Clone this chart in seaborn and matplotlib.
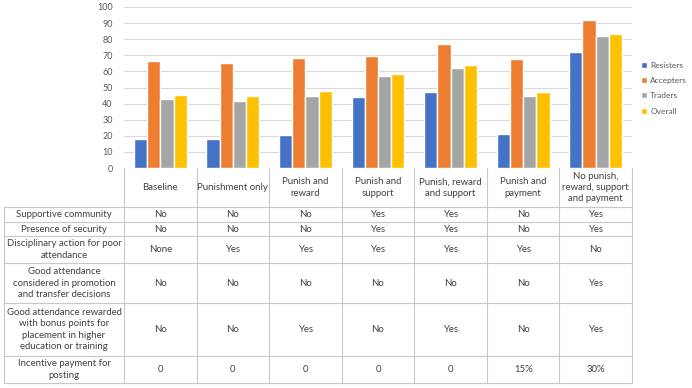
import pandas as pd
import matplotlib
matplotlib.use('Agg')
import matplotlib.pyplot as plt
import seaborn as sns

# 시나리오별 결석 대응 유형 비율
scenarios = ['Baseline', 'Punishment only', 'Punish and\nreward', 'Punish and\nsupport',
             'Punish, reward\nand support', 'Punish and\npayment',
             'No punish,\nreward, support\nand payment']
groups = ['Resisters', 'Accepters', 'Traders', 'Overall']
resisters = [18.0, 18.2, 20.7, 44.1, 47.0, 21.1, 72.3]
accepters = [66.3, 65.0, 68.5, 69.8, 76.8, 67.7, 91.9]
traders = [42.6, 41.8, 45.0, 56.9, 62.1, 44.7, 82.2]
overall = [45.3, 44.6, 47.8, 58.6, 63.8, 47.4, 83.4]
colors = ['#4472C4', '#ED7D31', '#A5A5A5', '#FFC000']

# 아래 표 내용
row_labels = ['Supportive community',
              'Presence of security',
              'Disciplinary action for poor\nattendance',
              'Good attendance\nconsidered in promotion\nand transfer decisions',
              'Good attendance rewarded\nwith bonus points for\nplacement in higher\neducation or training',
              'Incentive payment for\nposting']
supportive = ['No', 'No', 'No', 'Yes', 'Yes', 'No', 'Yes']
security = ['No', 'No', 'No', 'Yes', 'Yes', 'No', 'Yes']
disciplinary = ['None', 'Yes', 'Yes', 'Yes', 'Yes', 'Yes', 'No']
promotion = ['No', 'No', 'No', 'No', 'No', 'No', 'Yes']
bonus = ['No', 'No', 'Yes', 'No', 'Yes', 'No', 'Yes']
payment = ['0', '0', '0', '0', '0', '15%', '30%']
row_values = [supportive, security, disciplinary, promotion, bonus, payment]

df = pd.DataFrame({'scenario': scenarios * 4,
                   'group': sum([[g] * 7 for g in groups], []),
                   'value': resisters + accepters + traders + overall})

sns.set_style('white')
plt.rcParams['font.family'] = ['Lato', 'DejaVu Sans']

W, H = 692, 388
fig = plt.figure(figsize=(W / 100, H / 100), dpi=100)
ax = fig.add_axes([124 / W, 1 - 168 / H, (632 - 124) / W, (168 - 7) / H])

sns.barplot(data=df, x='scenario', y='value', hue='group', palette=colors,
            width=0.73, gap=0, saturation=1, ax=ax)
ax.set_xlim(-0.5, 6.5)
ax.set_ylim(0, 100)
ax.set_yticks(range(0, 101, 10))
ax.set_xticks([])
ax.set_xlabel('')
ax.set_ylabel('')
ax.tick_params(axis='y', length=0, pad=8, labelsize=6.5, labelcolor='#595959')
ax.yaxis.grid(True, color='#D9D9D9', lw=0.8)
ax.set_axisbelow(True)
for s in ax.spines.values():
    s.set_visible(False)

ax.legend(loc='center left', bbox_to_anchor=(639 / W, 1 - 88 / H),
          bbox_transform=fig.transFigure, frameon=False, fontsize=6,
          labelcolor='#595959', handlelength=0.75, handleheight=0.75,
          handletextpad=0.4, labelspacing=1.0, borderaxespad=0, borderpad=0.2)

# 표 그리기 (픽셀 좌표 오버레이)
tab = fig.add_axes([0, 0, 1, 1], zorder=-1)
tab.set_xlim(0, W)
tab.set_ylim(H, 0)
tab.axis('off')

col_x = [ax.transData.transform((i - 0.5, 0))[0] for i in range(8)]
row_y = [168, 207, 222, 236, 263, 303, 356, 383]
left = 4
line_c = '#C8C8C8'
text_c = '#404040'
fs = 6.9

for x in col_x:
    tab.plot([x, x], [row_y[0], row_y[-1]], color=line_c, lw=0.8)
tab.plot([left, left], [row_y[1], row_y[-1]], color=line_c, lw=0.8)
for y in row_y[1:]:
    tab.plot([left, col_x[-1]], [y, y], color=line_c, lw=0.8)

for i, name in enumerate(scenarios):
    tab.text((col_x[i] + col_x[i + 1]) / 2, (row_y[0] + row_y[1]) / 2, name,
             ha='center', va='center', fontsize=fs, color=text_c, linespacing=1.3)

for r, (label, vals) in enumerate(zip(row_labels, row_values)):
    yc = (row_y[r + 1] + row_y[r + 2]) / 2
    tab.text((left + col_x[0]) / 2, yc, label, ha='center', va='center',
             fontsize=fs, color=text_c, linespacing=1.3)
    for i, v in enumerate(vals):
        tab.text((col_x[i] + col_x[i + 1]) / 2, yc, v, ha='center', va='center',
                 fontsize=fs, color=text_c)

fig.savefig('out.png', dpi=100)
